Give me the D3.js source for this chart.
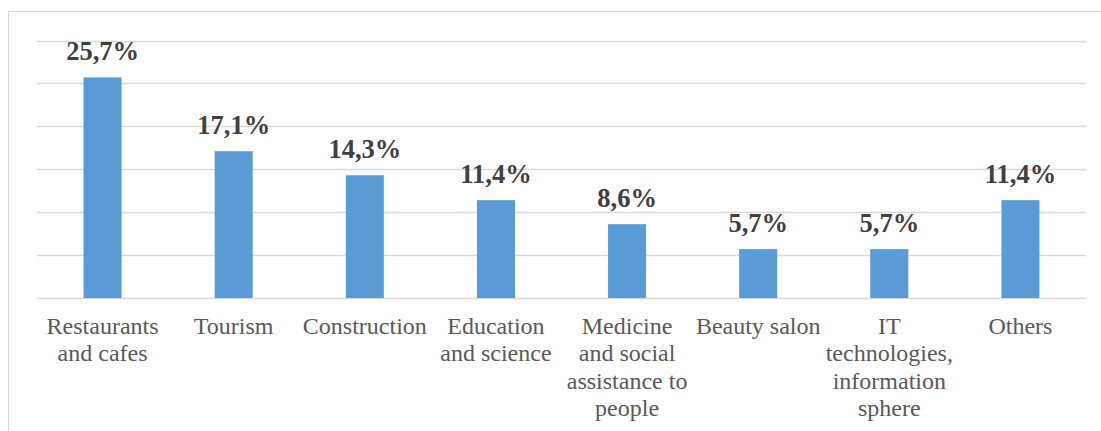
<!DOCTYPE html>
<html>
<head>
<meta charset="utf-8">
<script src="https://cdn.jsdelivr.net/npm/d3@7"></script>
<style>
  html, body { margin: 0; padding: 0; background: #fff; }
  svg { display: block; }
  svg text { font-family: "Liberation Serif", "Times New Roman", Times, "DejaVu Serif", serif; }
</style>
</head>
<body>
<svg id="chart" width="1101" height="431"></svg>
<script>
const categories = ["Restaurants and cafes", "Tourism", "Construction", "Education and science",
  "Medicine and social assistance to people", "Beauty salon", "IT technologies, information sphere", "Others"];
const categoryLines = [
  ["Restaurants", "and cafes"],
  ["Tourism"],
  ["Construction"],
  ["Education", "and science"],
  ["Medicine", "and social", "assistance to", "people"],
  ["Beauty salon"],
  ["IT", "technologies,", "information", "sphere"],
  ["Others"]
];
const values = [25.7, 17.1, 14.3, 11.4, 8.6, 5.7, 5.7, 11.4];
const valueLabels = ["25,7%", "17,1%", "14,3%", "11,4%", "8,6%", "5,7%", "5,7%", "11,4%"];
const yTicks = [0, 5, 10, 15, 20, 25, 30];

const svg = d3.select("#chart");
const W = 1101, H = 431;

// outer chart border
svg.append("rect")
  .attr("x", 8.5).attr("y", 11.5)
  .attr("width", W + 10).attr("height", H + 10)
  .attr("fill", "none").attr("stroke", "#d9d9d9").attr("stroke-width", 1);

const x = d3.scaleBand().domain(categories).range([37, 1086]).paddingInner(0.71).paddingOuter(0.355);
const y = d3.scaleLinear().domain([0, 30]).range([298, 40.5]);

// gridlines
svg.append("g").selectAll("line").data(yTicks).join("line")
  .attr("x1", 37).attr("x2", 1086)
  .attr("y1", d => Math.round(y(d)) + 0.5).attr("y2", d => Math.round(y(d)) + 0.5)
  .attr("stroke", "#d9d9d9").attr("stroke-width", 1.3);

// bars
svg.append("g").selectAll("rect").data(values).join("rect")
  .attr("x", (d, i) => x(categories[i]))
  .attr("width", x.bandwidth())
  .attr("y", d => y(d))
  .attr("height", d => y(0) - y(d))
  .attr("fill", "#5b9bd5");

// value labels
svg.append("g").selectAll("text").data(values).join("text")
  .attr("x", (d, i) => x(categories[i]) + x.bandwidth() / 2)
  .attr("y", d => y(d) - 17)
  .attr("text-anchor", "middle")
  .style("font-weight", "bold")
  .style("font-size", "26.5px")
  .attr("fill", "#404040")
  .text((d, i) => valueLabels[i]);

// category labels
const cat = svg.append("g").selectAll("text").data(categories).join("text")
  .attr("text-anchor", "middle")
  .style("font-size", "24px")
  .attr("fill", "#595959")
  .attr("transform", d => `translate(${x(d) + x.bandwidth() / 2},334)`);
cat.selectAll("tspan").data((d, i) => categoryLines[i]).join("tspan")
  .attr("x", 0)
  .attr("y", (d, j) => j * 27.3)
  .text(d => d);
</script>
</body>
</html>
